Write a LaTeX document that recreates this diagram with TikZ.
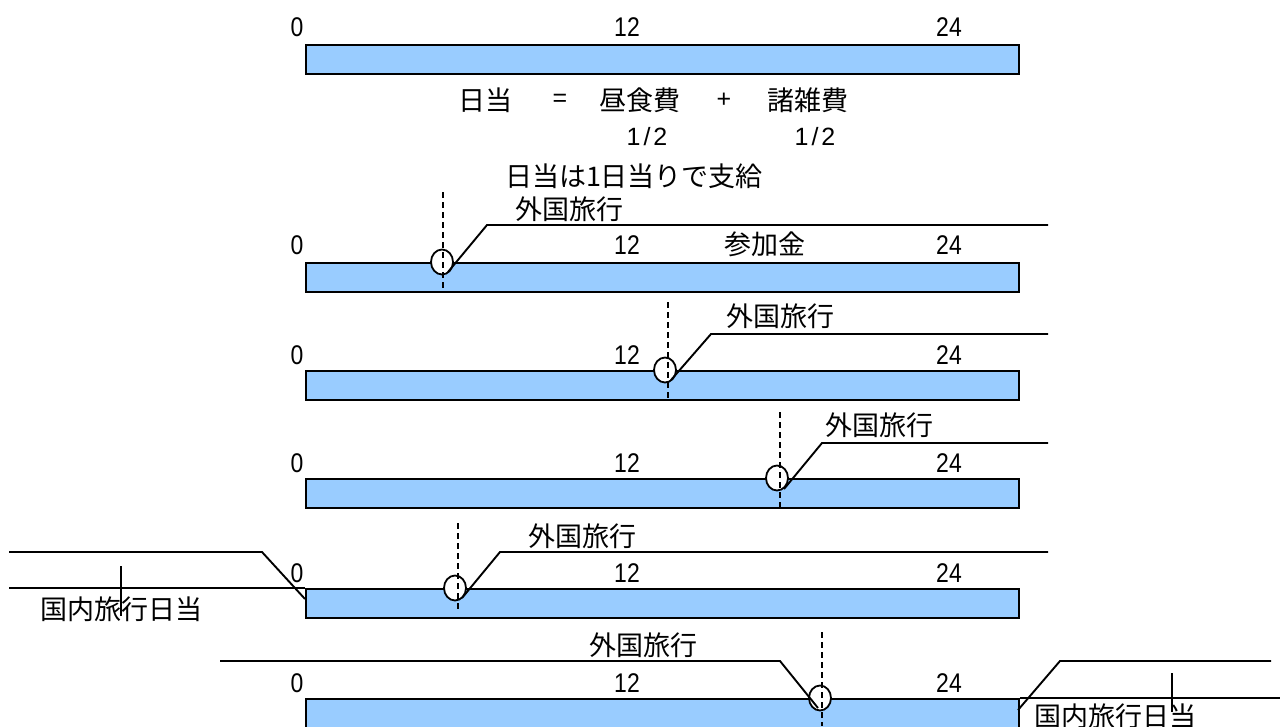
\documentclass[tikz,border=0pt]{standalone}
\usepackage{fontspec}
\setmainfont{Noto Sans CJK JP}
\newfontfamily\arialf{Liberation Sans}
\newfontfamily\numf[FakeStretch=0.85]{Liberation Sans}
\usetikzlibrary{shapes.geometric}
\definecolor{barblue}{HTML}{99CCFF}
\tikzset{
  barbox/.style={draw=black, line width=1.8pt, fill=barblue, minimum width=713pt, minimum height=29pt, inner sep=0pt, anchor=north west},
  lbl/.style={inner sep=0pt, font=\fontsize{27}{31}\selectfont},
  nlbl/.style={inner sep=0pt, font=\numf\fontsize{27}{31}\selectfont},
  albl/.style={inner sep=0pt, font=\arialf\fontsize{25}{29}\selectfont},
  ring/.style={draw=black, line width=1.8pt, fill=white, ellipse, minimum width=22pt, minimum height=25pt, inner sep=0pt},
  dline/.style={line width=1.3pt, dash pattern=on 6pt off 4pt},
  sline/.style={line width=1.9pt},
  tick/.style={line width=1.3pt},
}
\begin{document}
\begin{tikzpicture}[x=1pt,y=-1pt]
\useasboundingbox (0,0) rectangle (1280,726);
% ---------- row 1
\node[barbox] (b1) at (305,44) {};
\node[nlbl] (z1) at (297,27) {0};
\node[nlbl] (m1) at (627,27) {12};
\node[nlbl] (e1) at (949,27) {24};
\node[lbl] (t1) at (485,100) {日当};
\node[albl] (t2) at (560,100) {=};
\node[lbl] (t3) at (640,100) {昼食費};
\node[albl] (t4) at (724,100) {+};
\node[lbl] (t5) at (808,100) {諸雑費};
\node[albl] (h1) at (647,137) {1\kern3pt/\kern3pt2};
\node[albl] (h2) at (815,137) {1\kern3pt/\kern3pt2};
\node[lbl] (t6) at (634,176) {日当は1日当りで支給};
% ---------- row 2
\node[barbox] (b2) at (305,262) {};
\node[nlbl] (z2) at (297,245) {0};
\node[nlbl] (m2) at (627,245) {12};
\node[nlbl] (e2) at (949,245) {24};
\node[lbl] (s2) at (765,244) {参加金};
\node[lbl] (g2) at (569,209) {外国旅行};
\node[ring] (c2) at (442,262) {};
\coordinate (d2t) at (443,192); \coordinate (d2b) at (443,288);
\coordinate (p2a) at (448,272); \coordinate (p2b) at (487,225); \coordinate (p2c) at (1048,225);
\draw[dline] (d2t) -- (d2b);
\draw[sline] (p2a) -- (p2b) -- (p2c);
% ---------- row 3
\node[barbox] (b3) at (305,370) {};
\node[nlbl] (z3) at (297,355) {0};
\node[nlbl] (m3) at (627,355) {12};
\node[nlbl] (e3) at (949,355) {24};
\node[lbl] (g3) at (780,316) {外国旅行};
\node[ring] (c3) at (665,370) {};
\coordinate (d3t) at (668,302); \coordinate (d3b) at (668,399);
\coordinate (p3a) at (671,380); \coordinate (p3b) at (711,334); \coordinate (p3c) at (1048,334);
\draw[dline] (d3t) -- (d3b);
\draw[sline] (p3a) -- (p3b) -- (p3c);
% ---------- row 4
\node[barbox] (b4) at (305,478) {};
\node[nlbl] (z4) at (297,463) {0};
\node[nlbl] (m4) at (627,463) {12};
\node[nlbl] (e4) at (949,463) {24};
\node[lbl] (g4) at (879,425) {外国旅行};
\node[ring] (c4) at (777,478) {};
\coordinate (d4t) at (780,412); \coordinate (d4b) at (780,507);
\coordinate (p4a) at (784,489); \coordinate (p4b) at (822,443); \coordinate (p4c) at (1048,443);
\draw[dline] (d4t) -- (d4b);
\draw[sline] (p4a) -- (p4b) -- (p4c);
% ---------- row 5
\node[barbox] (b5) at (305,588) {};
\node[nlbl] (z5) at (297,573) {0};
\node[nlbl] (m5) at (627,573) {12};
\node[nlbl] (e5) at (949,573) {24};
\node[lbl] (g5) at (582,536) {外国旅行};
\node[ring] (c5) at (455,588) {};
\coordinate (d5t) at (458,523); \coordinate (d5b) at (458,612);
\coordinate (p5a) at (462,598); \coordinate (p5b) at (500,552); \coordinate (p5c) at (1048,552);
\draw[dline] (d5t) -- (d5b);
\draw[sline] (p5a) -- (p5b) -- (p5c);
\node[lbl] (k5) at (121,609) {国内旅行日当};
\coordinate (l5a) at (9,552); \coordinate (l5b) at (262,552); \coordinate (l5c) at (305,599);
\coordinate (l5d) at (9,588);
\coordinate (k5t) at (121,566); \coordinate (k5b) at (121,616);
\draw[sline] (l5a) -- (l5b) -- (l5c);
\draw[sline] (l5d) -- (b5.north west);
\draw[tick] (k5t) -- (k5b);
% ---------- row 6
\node[barbox] (b6) at (305,698) {};
\node[nlbl] (z6) at (297,683) {0};
\node[nlbl] (m6) at (627,683) {12};
\node[nlbl] (e6) at (949,683) {24};
\node[lbl] (g6) at (643,645) {外国旅行};
\node[ring] (c6) at (820,698) {};
\coordinate (d6t) at (822,632); \coordinate (d6b) at (822,726);
\coordinate (p6a) at (220,661); \coordinate (p6b) at (780,661); \coordinate (p6c) at (818,708);
\draw[dline] (d6t) -- (d6b);
\draw[sline] (p6a) -- (p6b) -- (p6c);
\node[lbl] (k6) at (1115,716) {国内旅行日当};
\coordinate (r6a) at (1018,710); \coordinate (r6b) at (1060,661); \coordinate (r6c) at (1271,661);
\coordinate (r6d) at (1280,698);
\coordinate (k6t) at (1172,673); \coordinate (k6b) at (1172,712);
\draw[sline] (r6a) -- (r6b) -- (r6c);
\draw[sline] (b6.north east) -- (r6d);
\draw[tick] (k6t) -- (k6b);
\end{tikzpicture}
\end{document}
